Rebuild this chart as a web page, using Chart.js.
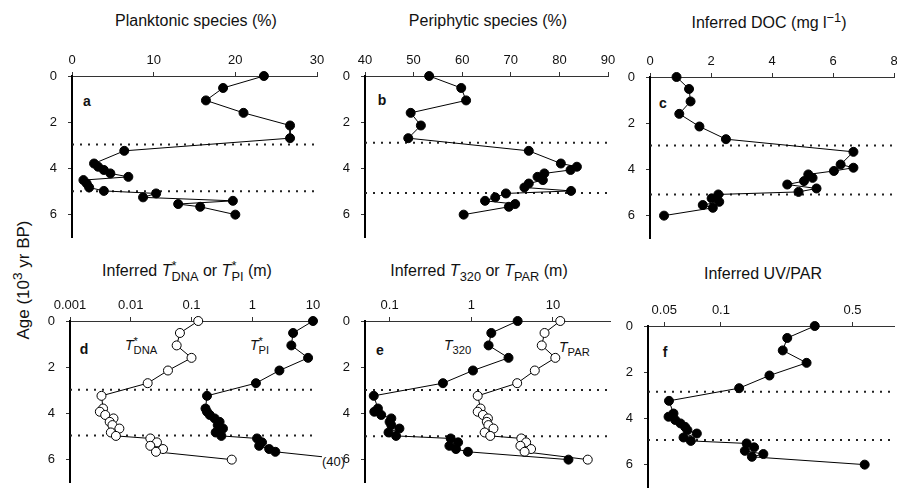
<!DOCTYPE html>
<html>
<head>
<meta charset="utf-8">
<script src="https://cdn.jsdelivr.net/npm/chart.js@4.4.0/dist/chart.umd.min.js"></script>
<style>
  html, body { margin: 0; padding: 0; background: #fff; overflow: hidden; }
  #wrap { position: relative; width: 897px; height: 494px; font-family: "Liberation Sans", Arial, sans-serif; color: #111; }
  #wrap canvas { position: absolute; }
  .t { position: absolute; white-space: nowrap; line-height: 1; font-size: 16px; transform: translate(-50%, -50%); }
  .lbl { position: absolute; white-space: nowrap; line-height: 1; font-size: 14px; transform: translateY(-50%); }
  .pl { position: absolute; line-height: 1; font-size: 14px; font-weight: bold; transform: translate(-50%, -50%); }
  .ylab { position: absolute; left: 23px; top: 280px; white-space: nowrap; line-height: 1; font-size: 17px; transform: translate(-50%, -50%) rotate(-90deg); }
  sub, sup { line-height: 0; font-size: 0.8em; }
  sub { vertical-align: -0.4em; }
  sup { vertical-align: 0.45em; }
  sub.s { margin-left: -0.39em; }
</style>
</head>
<body>
<div id="wrap">
  <div class="t" style="left:196px;top:21px">Planktonic species (%)</div>
  <div class="t" style="left:488px;top:21px">Periphytic species (%)</div>
  <div class="t" style="left:769px;top:23px">Inferred DOC (mg l<sup>−1</sup>)</div>
  <div class="t" style="left:187px;top:271px">Inferred <i>T</i><sup>*</sup><sub class="s">DNA</sub> or <i>T</i><sup>*</sup><sub class="s">PI</sub> (m)</div>
  <div class="t" style="left:479px;top:271px">Inferred <i>T</i><sub>320</sub> or <i>T</i><sub>PAR</sub> (m)</div>
  <div class="t" style="left:763px;top:274px">Inferred UV/PAR</div>
  <div class="ylab">Age (10<sup>3</sup> yr BP)</div>

  <div class="pl" style="left:87px;top:101px">a</div>
  <div class="pl" style="left:382px;top:100px">b</div>
  <div class="pl" style="left:663px;top:103px">c</div>
  <div class="pl" style="left:84px;top:349px">d</div>
  <div class="pl" style="left:380px;top:350px">e</div>
  <div class="pl" style="left:665px;top:352px">f</div>

  <div class="lbl" style="left:125px;top:345px"><i>T</i><sup>*</sup><sub class="s">DNA</sub></div>
  <div class="lbl" style="left:250px;top:345px"><i>T</i><sup>*</sup><sub class="s">PI</sub></div>
  <div class="lbl" style="left:444px;top:345px"><i>T</i><sub>320</sub></div>
  <div class="lbl" style="left:559px;top:347px"><i>T</i><sub>PAR</sub></div>
  <div class="lbl" style="left:322px;top:461px;font-size:13px">(40)</div>
</div>

<script>
const FONT = '"Liberation Sans", Arial, sans-serif';

// sample ages (10^3 yr BP), shared by all panels
const ages = [0, 0.52, 1.06, 1.6, 2.15, 2.7, 3.25, 3.8, 3.94, 4.08, 4.23, 4.38, 4.52, 4.67, 4.84, 4.99, 5.1, 5.27, 5.42, 5.56, 5.68, 6.02];

const planktonic = [23.5, 18.5, 16.4, 21.0, 26.7, 26.7, 6.4, 2.7, 3.2, 3.9, 4.7, 6.9, 1.4, 1.8, 2.1, 3.9, 10.3, 8.7, 19.7, 13.0, 15.7, 20.0];
const periphytic = [53.2, 59.8, 60.8, 49.4, 51.5, 48.9, 73.7, 80.3, 83.6, 82.3, 76.9, 75.5, 76.6, 73.7, 72.8, 82.4, 69.0, 66.8, 64.7, 70.9, 69.6, 60.3];
const doc = [0.87, 1.28, 1.33, 0.96, 1.62, 2.49, 6.67, 6.25, 6.67, 6.03, 5.19, 5.33, 5.05, 4.5, 5.46, 4.87, 2.24, 2.02, 2.27, 1.73, 2.06, 0.46];
const tDNA = [0.129, 0.0645, 0.057, 0.1, 0.041, 0.019, 0.0033, 0.0035, 0.0031, 0.0038, 0.0052, 0.0045, 0.005, 0.0065, 0.0047, 0.0057, 0.021, 0.027, 0.021, 0.034, 0.026, 0.46];
const tPI = [10, 4.7, 4.4, 8.3, 2.8, 1.15, 0.18, 0.17, 0.18, 0.2, 0.24, 0.29, 0.27, 0.33, 0.25, 0.31, 1.2, 1.45, 1.3, 1.9, 2.4, 40];
const t320 = [3.7, 1.76, 1.63, 2.86, 1.05, 0.45, 0.064, 0.072, 0.065, 0.079, 0.105, 0.1, 0.105, 0.132, 0.097, 0.12, 0.56, 0.69, 0.54, 0.65, 0.91, 15.5];
const tPAR = [12.3, 7.9, 7.3, 10.7, 6.0, 3.65, 1.2, 1.3, 1.2, 1.39, 1.6, 1.55, 1.62, 1.87, 1.46, 1.71, 4.1, 4.7, 4.0, 5.4, 4.5, 26.7];
const uvPar = [0.315, 0.225, 0.213, 0.285, 0.181, 0.125, 0.053, 0.056, 0.0527, 0.0572, 0.061, 0.0645, 0.0664, 0.0745, 0.0633, 0.0692, 0.137, 0.15, 0.134, 0.168, 0.146, 0.58];

// tick labels (age axis: 0, 2, 4, 6 via stepSize)
const ticksA = [0, 10, 20, 30];
const ticksB = [40, 50, 60, 70, 80, 90];
const ticksC = [0, 2, 4, 6, 8];
const ticksD = [0.001, 0.01, 0.1, 1, 10];
const ticksE = [0.1, 1, 10];
const ticksF = [0.05, 0.1, 0.5];

// zone boundaries (dotted lines)
const zonesA = [2.97, 5.0];
const zonesB = [2.9, 5.08];
const zonesC = [2.97, 5.1];
const zonesD = [2.98, 4.97];
const zonesE = [3.0, 5.0];
const zonesF = [2.85, 4.95];

const YW = 40, XH = 35, PADR = 15, PADB = 10, PLOTH = 170;

function pts(vals) {
  return vals.map((v, i) => ({ x: v, y: ages[i] }));
}

function series(vals, open, clip) {
  return {
    data: pts(vals),
    showLine: true,
    borderColor: '#000',
    borderWidth: 1,
    pointRadius: 4.5,
    pointBackgroundColor: open ? '#fff' : '#000',
    pointBorderColor: '#000',
    pointBorderWidth: 1,
    clip: clip === undefined ? false : clip,
    order: 1
  };
}

function zoneLines(zones, min, max) {
  return zones.map(a => ({
    data: [{ x: min, y: a }, { x: max, y: a }],
    showLine: true,
    borderColor: '#222',
    borderWidth: 2,
    borderDash: [2, 6],
    pointRadius: 0,
    clip: false,
    order: 2
  }));
}

function panel(left, right, top, type, min, max, ticks, zones, datasets) {
  const cv = document.createElement('canvas');
  const L = Math.round(left), T = Math.round(top);
  const w = YW + Math.round(right - left) + PADR;
  const h = XH + PLOTH + PADB;
  cv.width = w; cv.height = h;
  cv.style.left = (L - YW) + 'px';
  cv.style.top = (T - XH) + 'px';
  cv.style.width = w + 'px';
  cv.style.height = h + 'px';
  document.getElementById('wrap').appendChild(cv);

  new Chart(cv.getContext('2d'), {
    type: 'scatter',
    data: { datasets: datasets.concat(zoneLines(zones, min, max)) },
    options: {
      responsive: false,
      animation: false,
      events: [],
      layout: { padding: { left: 0, top: 0, right: PADR, bottom: PADB } },
      plugins: { legend: { display: false }, tooltip: { enabled: false } },
      scales: {
        x: {
          type: type,
          position: 'top',
          min: min,
          max: max,
          afterBuildTicks: s => { s.ticks = ticks.map(v => ({ value: v })); },
          afterFit: s => { s.height = XH; },
          ticks: {
            autoSkip: false, maxRotation: 0, padding: 4, color: '#111',
            font: { family: FONT, size: 13 },
            callback: v => String(v)
          },
          grid: { drawOnChartArea: false, tickLength: 4, color: '#333' },
          border: { color: '#333', width: 1 }
        },
        y: {
          reverse: true,
          min: 0,
          max: 7,
          afterFit: s => { s.width = YW; },
          ticks: { stepSize: 2, includeBounds: false, padding: 11, color: '#111', font: { family: FONT, size: 13 } },
          grid: { drawOnChartArea: false, tickLength: 4, color: '#333' },
          border: { display: true, color: '#000', width: 2 }
        }
      }
    }
  });
}

panel(71.7, 317, 75.5, 'linear', 0, 30, ticksA, zonesA, [series(planktonic, false)]);
panel(365, 607.5, 75.7, 'linear', 40, 90, ticksB, zonesB, [series(periphytic, false)]);
panel(650, 894, 77.3, 'linear', 0, 8, ticksC, zonesC, [series(doc, false)]);
panel(70, 313.2, 321, 'logarithmic', 0.001, 10, ticksD, zonesD, [
  series(tDNA, true),
  series(tPI, false, { left: false, top: false, right: 9, bottom: false })
]);
panel(365.4, 610.5, 321, 'logarithmic', 0.05, 50, ticksE, zonesE, [series(t320, false), series(tPAR, true)]);
panel(648, 894, 326, 'logarithmic', 0.041, 0.83, ticksF, zonesF, [series(uvPar, false)]);
</script>
</body>
</html>
